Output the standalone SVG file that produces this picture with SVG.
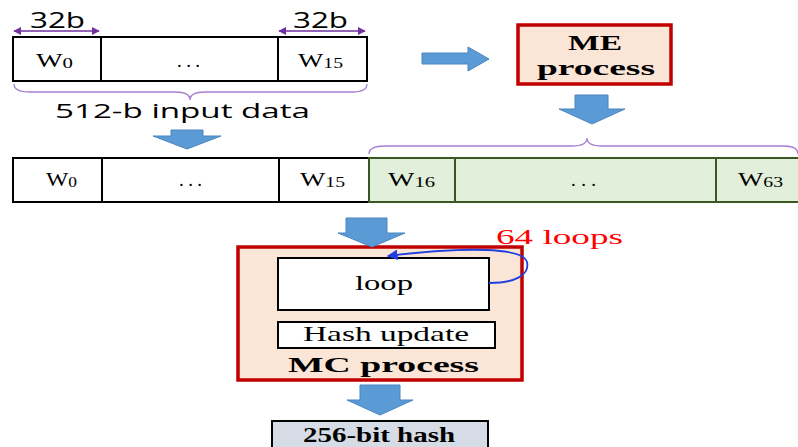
<svg xmlns="http://www.w3.org/2000/svg" width="798" height="447" viewBox="0 0 798 447">
<defs>
<style>
.cell{fill:#fff;stroke:#000;stroke-width:2}
.gcell{fill:#e2efda;stroke:#385723;stroke-width:2}
.proc{fill:#fbe5d6;stroke:#c00000;stroke-width:3.5}
.barrow{fill:#5b9bd5;stroke:#4a86c0;stroke-width:1}
.brace{fill:none;stroke:#a77fd0;stroke-width:1.3}
.serif{font-family:"Liberation Serif","Times New Roman",serif}
.sans{font-family:"Open Sans","Liberation Sans",sans-serif}
.w{font-family:"Liberation Serif",serif;font-size:19px}
.sub{font-size:14px}
</style>
<marker id="purp" viewBox="0 0 10 10" refX="9" refY="5" markerWidth="6" markerHeight="6" orient="auto-start-reverse">
<path d="M0,0 L10,5 L0,10 z" fill="#7030a0"/>
</marker>
<marker id="blue" viewBox="0 0 10 10" refX="9" refY="5" markerWidth="6" markerHeight="6" orient="auto">
<path d="M0,0 L10,5 L0,10 z" fill="#1f3fe0"/>
</marker>
</defs>
<rect width="798" height="447" fill="#fff"/>

<g id="input-row">
<rect class="cell" x="13" y="37" width="88" height="44"/>
<rect class="cell" x="101" y="37" width="177" height="44"/>
<rect class="cell" x="278" y="37" width="89" height="44"/>
<text class="w" x="36" y="67" textLength="37" lengthAdjust="spacingAndGlyphs">W<tspan class="sub" dy="1">0</tspan></text>
<text class="w" x="177" y="67" textLength="23" lengthAdjust="spacing">...</text>
<text class="w" x="298" y="67" textLength="45" lengthAdjust="spacingAndGlyphs">W<tspan class="sub" dy="1">15</tspan></text>
</g>

<g id="width-labels">
<line x1="14" y1="31" x2="99" y2="31" stroke="#7030a0" stroke-width="1.3" marker-start="url(#purp)" marker-end="url(#purp)"/>
<line x1="279" y1="31" x2="365" y2="31" stroke="#7030a0" stroke-width="1.3" marker-start="url(#purp)" marker-end="url(#purp)"/>
<text class="sans" x="30" y="28" font-size="22" textLength="55" lengthAdjust="spacingAndGlyphs">32b</text>
<text class="sans" x="293" y="28" font-size="22" textLength="55" lengthAdjust="spacingAndGlyphs">32b</text>
</g>

<g id="input-brace">
<path class="brace" d="M14,84 Q14,92 30,92 L175,92 Q190,92 190,100 Q190,92 205,92 L352,92 Q367,92 367,84"/>
<text class="sans" x="55" y="118" font-size="20" textLength="255" lengthAdjust="spacingAndGlyphs">512-b input data</text>
</g>

<g id="me-process">
<rect class="proc" x="518" y="25" width="153" height="59"/>
<text class="serif" x="568" y="50" font-size="22" font-weight="bold" textLength="54" lengthAdjust="spacingAndGlyphs">ME</text>
<text class="serif" x="537" y="75" font-size="22" font-weight="bold" textLength="118" lengthAdjust="spacingAndGlyphs">process</text>
</g>

<g id="expanded-row">
<rect class="cell" x="13" y="158" width="89" height="44"/>
<rect class="cell" x="102" y="158" width="177" height="44"/>
<rect class="cell" x="279" y="158" width="90" height="44"/>
<rect class="gcell" x="369" y="158" width="86" height="44"/>
<rect class="gcell" x="455" y="158" width="261" height="44"/>
<rect class="gcell" x="716" y="158" width="84" height="44"/>
<text class="w" x="46" y="186" textLength="31" lengthAdjust="spacingAndGlyphs">W<tspan class="sub" dy="1">0</tspan></text>
<text class="w" x="179" y="186" textLength="23" lengthAdjust="spacing">...</text>
<text class="w" x="300" y="186" textLength="45" lengthAdjust="spacingAndGlyphs">W<tspan class="sub" dy="1">15</tspan></text>
<text class="w" x="388" y="186" textLength="47" lengthAdjust="spacingAndGlyphs">W<tspan class="sub" dy="1">16</tspan></text>
<text class="w" x="571" y="186" textLength="25" lengthAdjust="spacing">...</text>
<text class="w" x="738" y="186" textLength="45" lengthAdjust="spacingAndGlyphs">W<tspan class="sub" dy="1">63</tspan></text>
</g>

<g id="me-brace">
<path class="brace" d="M369,154 Q369,146 385,146 L572,146 Q587,146 587,138 Q587,146 602,146 L783,146 Q798,146 798,154"/>
</g>

<g id="mc-process">
<rect class="proc" x="238" y="247" width="284" height="133"/>
<rect class="cell" x="278" y="258" width="211" height="52"/>
<text class="serif" x="355" y="290" font-size="21" textLength="58" lengthAdjust="spacingAndGlyphs">loop</text>
<rect class="cell" x="278" y="322" width="217" height="26"/>
<text class="serif" x="303" y="341" font-size="21" textLength="166" lengthAdjust="spacingAndGlyphs">Hash update</text>
<text class="serif" x="288" y="372" font-size="22" font-weight="bold" textLength="191" lengthAdjust="spacingAndGlyphs">MC process</text>
</g>

<g id="hash-output">
<rect x="272" y="421" width="216" height="30" fill="#d6dce5" stroke="#000" stroke-width="2"/>
<text class="serif" x="303" y="442" font-size="20" font-weight="bold" textLength="152" lengthAdjust="spacingAndGlyphs">256-bit hash</text>
</g>

<g id="connectors">
<path class="barrow" d="M422,53 L468,53 L468,47 L489,59 L468,71 L468,64 L422,64 z"/>
<path class="barrow" d="M575,95 L608,95 L608,109 L625,109 L592,124 L559,109 L575,109 z"/>
<path class="barrow" d="M171,130 L203,130 L203,136 L221,136 L187,149 L153,136 L171,136 z"/>
<path class="barrow" d="M346,218 L387,218 L387,233 L405,233 L372,247 L338,233 L346,233 z"/>
<path class="barrow" d="M360,385 L400,385 L400,400 L413,400 L380,415 L347,400 L360,400 z"/>
<path d="M489,283 C515,283 530,275 527,262 C523,248 470,246 388,256" fill="none" stroke="#1f3fe0" stroke-width="1.8" marker-end="url(#blue)"/>
<text class="serif" x="496" y="244" font-size="22" fill="#ff0000" textLength="127" lengthAdjust="spacingAndGlyphs">64 loops</text>
</g>
</svg>
